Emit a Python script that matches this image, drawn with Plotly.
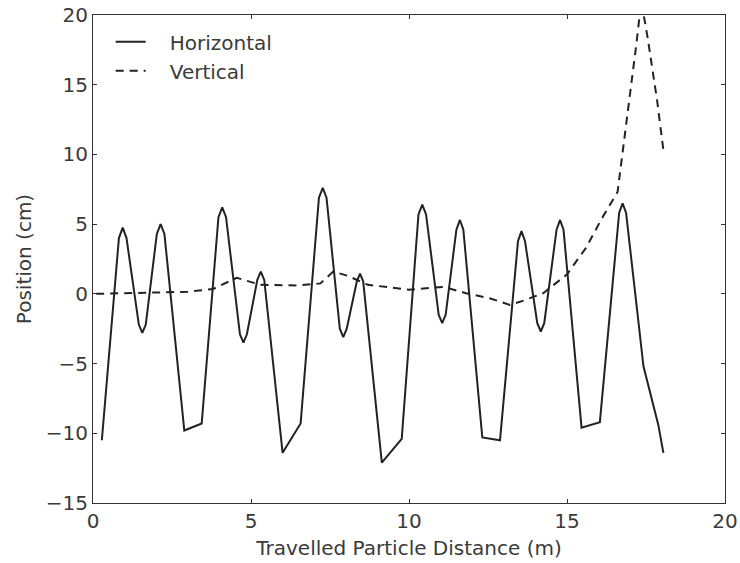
import plotly.graph_objects as go

# Horizontal position (solid line)
h_x = [0.28, 0.82, 0.94, 1.06, 1.45, 1.56, 1.67, 2.02, 2.14, 2.26, 2.89, 3.44,
       3.97, 4.09, 4.21, 4.65, 4.76, 4.87, 5.2, 5.31, 5.42, 6.0, 6.57,
       7.15, 7.27, 7.39, 7.81, 7.92, 8.03, 8.35, 8.45, 8.55, 9.14, 9.77,
       10.3, 10.42, 10.54, 10.94, 11.05, 11.16, 11.5, 11.61, 11.72, 12.32, 12.88,
       13.45, 13.56, 13.67, 14.06, 14.17, 14.28, 14.67, 14.78, 14.89, 15.46, 16.04,
       16.65, 16.76, 16.87, 17.42, 17.89, 18.05]
h_y = [-10.5, 4.0, 4.75, 4.0, -2.2, -2.8, -2.2, 4.3, 5.0, 4.3, -9.8, -9.3,
       5.5, 6.2, 5.5, -2.9, -3.5, -2.9, 1.0, 1.6, 1.0, -11.4, -9.3,
       6.9, 7.6, 6.9, -2.5, -3.1, -2.5, 0.9, 1.45, 0.9, -12.1, -10.4,
       5.7, 6.4, 5.7, -1.5, -2.1, -1.5, 4.6, 5.3, 4.6, -10.3, -10.5,
       3.8, 4.5, 3.8, -2.1, -2.7, -2.1, 4.6, 5.3, 4.6, -9.6, -9.2,
       5.8, 6.5, 5.8, -5.2, -9.4, -11.4]

# Vertical position (dashed line)
v_x = [0.1, 1.0, 2.0, 3.0, 3.8, 4.55, 5.3, 6.5, 7.2, 7.6, 8.05, 8.7, 10.0, 11.1,
       11.8, 12.6, 13.2, 13.6, 14.25, 15.0, 15.6, 16.1, 16.6, 16.9, 17.2, 17.35,
       17.55, 17.85, 18.05]
v_y = [0.0, 0.05, 0.1, 0.15, 0.35, 1.15, 0.65, 0.6, 0.75, 1.6, 1.3, 0.65, 0.3, 0.5,
       0.05, -0.35, -0.8, -0.5, 0.05, 1.4, 3.3, 5.4, 7.3, 12.5, 18.0, 21.0,
       18.4, 13.9, 10.3]

x_ticks = [0, 5, 10, 15, 20]
y_ticks = [-15, -10, -5, 0, 5, 10, 15, 20]

font_family = "DejaVu Sans, sans-serif"
text_col = "#3a3a3a"
line_col = "#222222"
fsize = 20
pad = "\u00a0\u00a0\u00a0"

fig = go.Figure()
fig.add_trace(go.Scatter(x=h_x, y=h_y, mode="lines", name=pad + "Horizontal",
                         legendgroup="h",
                         line=dict(color=line_col, width=2)))
fig.add_trace(go.Scatter(x=v_x, y=v_y, mode="lines", name=pad + "Vertical",
                         legendgroup="v",
                         line=dict(color=line_col, width=2, dash="8px,6px")))

axis_common = dict(showline=True, linecolor="#333333", linewidth=1.2, mirror="ticks",
                   ticks="inside", ticklen=4, tickcolor="#333333", showgrid=False,
                   zeroline=False, automargin=False,
                   tickfont=dict(family=font_family, size=fsize, color=text_col))

fig.update_layout(
    width=740, height=563,
    margin=dict(l=93, r=15, t=15, b=60),
    paper_bgcolor="white", plot_bgcolor="white",
    font=dict(family=font_family, color=text_col),
    showlegend=True,
    legend=dict(x=0.028, y=0.985, xanchor="left", yanchor="top",
                bgcolor="rgba(0,0,0,0)", borderwidth=0,
                font=dict(family=font_family, size=fsize, color=text_col),
                tracegroupgap=0, traceorder="grouped"),
    xaxis=dict(range=[0, 20], tickvals=x_ticks,
               title=dict(text="Travelled Particle Distance (m)", standoff=8,
                          font=dict(family=font_family, size=fsize, color=text_col)),
               **axis_common),
    yaxis=dict(range=[-15, 20], tickvals=y_ticks,
               title=dict(text="Position (cm)", standoff=8,
                          font=dict(family=font_family, size=fsize, color=text_col)),
               **axis_common),
)

fig.write_html("out.html")
